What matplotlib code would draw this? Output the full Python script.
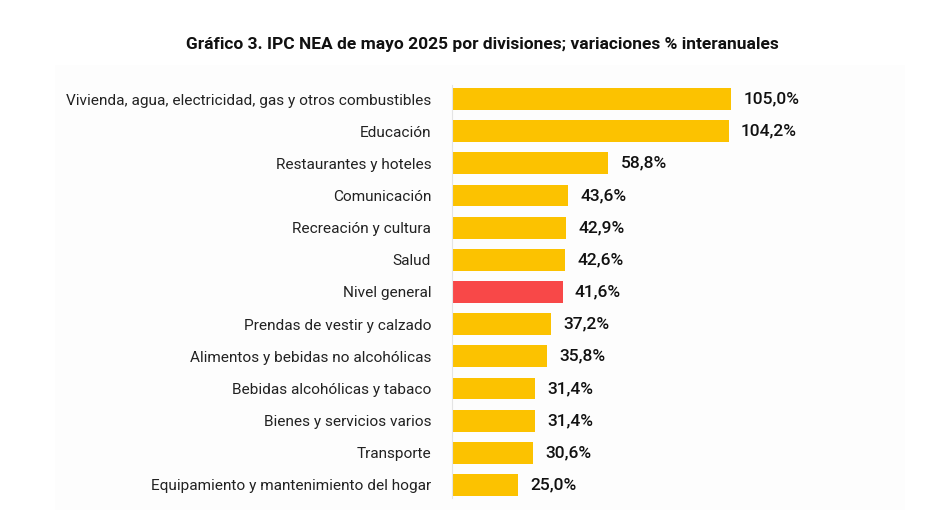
import matplotlib.pyplot as plt

categories = [
    "Vivienda, agua, electricidad, gas y otros combustibles",
    "Educación",
    "Restaurantes y hoteles",
    "Comunicación",
    "Recreación y cultura",
    "Salud",
    "Nivel general",
    "Prendas de vestir y calzado",
    "Alimentos y bebidas no alcohólicas",
    "Bebidas alcohólicas y tabaco",
    "Bienes y servicios varios",
    "Transporte",
    "Equipamiento y mantenimiento del hogar",
]
values = [105.0, 104.2, 58.8, 43.6, 42.9, 42.6, 41.6, 37.2, 35.8, 31.4, 31.4, 30.6, 25.0]
highlight = "Nivel general"

YELLOW = "#FCC200"
RED = "#F84848"
FONT = "Roboto"

fig = plt.figure(figsize=(9.48, 5.17), dpi=100)
fig.patch.set_facecolor("white")

# faint panel behind the chart
panel = fig.add_axes([55 / 948, 7 / 517, 850 / 948, 445 / 517], zorder=0)
panel.set_facecolor("#FDFDFD")
panel.set_xticks([])
panel.set_yticks([])
for s in panel.spines.values():
    s.set_visible(False)

ax = fig.add_axes([452 / 948, 16 / 517, 453 / 948, 418 / 517], zorder=1)
ax.patch.set_alpha(0)

ypos = list(range(len(categories)))
colors = [RED if c == highlight else YELLOW for c in categories]
ax.barh(ypos, values, height=0.68, color=colors)
ax.set_ylim(len(categories) - 0.5, -0.5)
ax.set_xlim(0, 170.5)

for y, v in zip(ypos, values):
    ax.text(v + 4.6, y, f"{v:.1f}%".replace(".", ","), va="center", ha="left",
            fontsize=12.5, fontweight="medium", family=FONT, color="#111111")

ax.set_yticks(ypos)
ax.set_yticklabels(categories, fontsize=11.1, family=FONT, color="#222222")
ax.tick_params(axis="y", length=0, pad=15)
ax.set_xticks([])
for s in ["top", "right", "bottom"]:
    ax.spines[s].set_visible(False)
ax.spines["left"].set_color("#E4E4E4")
ax.spines["left"].set_linewidth(0.8)
ax.spines["left"].set_bounds(-0.45, 12.4)

fig.text(482 / 948, 1 - 45 / 517, "Gráfico 3. IPC NEA de mayo 2025 por divisiones; variaciones % interanuales",
         ha="center", va="center", fontsize=12.5, fontweight="bold", family=FONT, color="#111111")

fig.savefig("out.png", dpi=100, facecolor="white")
